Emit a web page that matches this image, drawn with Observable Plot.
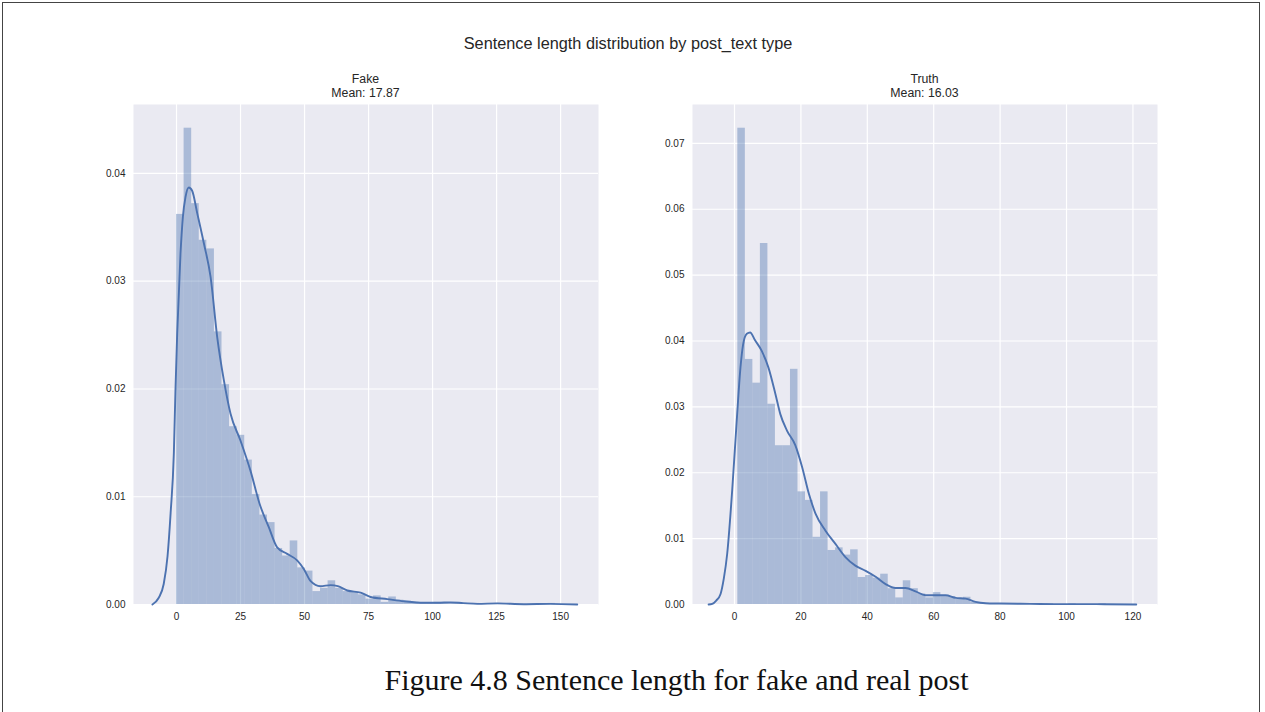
<!DOCTYPE html>
<html>
<head>
<meta charset="utf-8">
<script src="https://cdn.jsdelivr.net/npm/d3@7"></script>
<script src="https://cdn.jsdelivr.net/npm/@observablehq/plot@0.6"></script>
<style>
  html, body { margin: 0; padding: 0; background: #fff; width: 1265px; height: 712px; overflow: hidden; }
  #page { position: relative; width: 1265px; height: 712px; font-family: "Liberation Sans", Arial, sans-serif; color: #262626; }
  .abs { position: absolute; }
  .border { left: 2px; top: 2px; width: 1258px; height: 800px; border: 1.5px solid #444; box-sizing: border-box; }
  .suptitle { left: 0; width: 1256px; top: 33px; text-align: center; font-size: 16.3px; line-height: 20px; }
  .sub { text-align: center; font-size: 12.3px; line-height: 14px; width: 465px; top: 72px; }
  .caption { left: 0; width: 1353px; top: 662px; text-align: center; font-family: "Liberation Serif", "Times New Roman", serif; font-size: 30px; line-height: 36px; color: #111; }
</style>
</head>
<body>
<div id="page">
  <div class="abs border"></div>
  <div class="abs suptitle">Sentence length distribution by post_text type</div>
  <div class="abs sub" id="subL" style="left:133px"></div>
  <div class="abs sub" id="subR" style="left:692px"></div>
  <div class="abs" id="chartL" style="left:83px; top:100px"></div>
  <div class="abs" id="chartR" style="left:642px; top:100px"></div>
  <div class="abs caption">Figure 4.8 Sentence length for fake and real post</div>
</div>
<script>
// ---------- Data ----------
const panelTitles = ["Fake", "Truth"];
const panelMeans = ["17.87", "16.03"];

// Fake: histogram densities, bins start at 0, width 2.96
const fakeBinStart = 0;
const fakeBinWidth = 2.96;
const fakeDensity = [
  0.0362, 0.0442, 0.0372, 0.0338, 0.0330, 0.0253, 0.0204, 0.0165, 0.0157, 0.0134,
  0.0102, 0.0083, 0.0076, 0.0052, 0.0045, 0.0059, 0.0034, 0.0031, 0.0012, 0.0015,
  0.0022, 0.0015, 0.0012, 0.0011, 0.0009, 0.0005, 0.0008, 0.0002, 0.0007, 0.0004,
  0.0003, 0.0002, 0.0001, 0.0001, 0.0002, 0.0001, 0.0001, 0.0001, 0.0000, 0.0001,
  0.0000, 0.0000, 0.0001, 0.0000, 0.0000, 0.0000, 0.0000, 0.0000, 0.0000, 0.0001
];
// Fake: KDE curve
const fakeKdeX = [-9.4, -7, -5, -3.5, -2.3, -1.05, -0.4, 0.26, 1.56, 2.5, 3.5, 4.8, 6.1, 8.1, 10.7, 13.3, 15.9, 18.5, 21.1, 25, 28.9, 32.5, 36, 39.3, 43.2, 47.1, 49.7, 52.3, 56.2, 60.2, 63, 66.7, 71.9, 75.8, 82.3, 88.8, 96.6, 102, 107, 112, 117.5, 125.3, 135.6, 146, 156.5];
const fakeKdeY = [0, 0.0006, 0.0019, 0.0045, 0.0085, 0.014, 0.020, 0.0251, 0.0326, 0.036, 0.0378, 0.0387, 0.0384, 0.0363, 0.0335, 0.0304, 0.0248, 0.0208, 0.0177, 0.0152, 0.0124, 0.0093, 0.0072, 0.0053, 0.0047, 0.0041, 0.0033, 0.0022, 0.0017, 0.0018, 0.0017, 0.0013, 0.0011, 0.0007, 0.0005, 0.0003, 0.00016, 0.00016, 0.0002, 0.00013, 0.00006, 0.0001, 0.00003, 0.00006, 0];

// Truth: histogram densities, bins start at 1, width 2.265
const truthBinStart = 1;
const truthBinWidth = 2.265;
const truthDensity = [
  0.0723, 0.0372, 0.0336, 0.0548, 0.0304, 0.0241, 0.0241, 0.0357, 0.0171, 0.0158,
  0.0102, 0.0171, 0.0082, 0.0086, 0.0075, 0.0083, 0.0041, 0.0044, 0.0040, 0.0046,
  0.0024, 0.0010, 0.0036, 0.0024, 0.0016, 0.0010, 0.0018, 0.0012, 0.0012, 0.0008,
  0.0011, 0.0003, 0.0002, 0.0001, 0.0001, 0.0000, 0.0001, 0.0000, 0.0001, 0.0000,
  0.0000, 0.0001, 0.0000, 0.0000, 0.0001, 0.0000, 0.0000, 0.0000, 0.0001
];
const truthKdeX = [-7.8, -6.7, -5.5, -4.2, -3.2, -2.2, -0.7, 0.8, 1.8, 2.6, 3.7, 4.7, 6.2, 8.2, 10.2, 12.3, 13.8, 15.8, 18.3, 20.4, 22.4, 24.4, 27.4, 30.4, 33.4, 36.4, 39.5, 42.5, 45.5, 48.5, 51.5, 54.5, 57.5, 60.5, 63.6, 66.6, 69.6, 72.6, 75.6, 80, 89, 99, 109, 121];
const truthKdeY = [0, 0.0001, 0.0006, 0.0016, 0.004, 0.0077, 0.0173, 0.0289, 0.036, 0.0395, 0.0411, 0.0413, 0.0401, 0.0385, 0.036, 0.032, 0.0289, 0.0264, 0.0242, 0.0208, 0.0168, 0.0138, 0.0112, 0.0092, 0.0072, 0.0059, 0.0051, 0.0042, 0.0031, 0.0025, 0.0025, 0.002, 0.0014, 0.0014, 0.0014, 0.001, 0.0009, 0.0004, 0.0002, 0.00015, 0.0001, 0.00005, 0.00005, 0];

// Tick values
const fakeXTicks = [0, 25, 50, 75, 100, 125, 150];
const fakeYTicks = [0, 0.01, 0.02, 0.03, 0.04];
const truthXTicks = [0, 20, 40, 60, 80, 100, 120];
const truthYTicks = [0, 0.01, 0.02, 0.03, 0.04, 0.05, 0.06, 0.07];

// ---------- Drawing ----------
const blue = "#4C72B0";
function panel({density, binStart, binWidth, kdeX, kdeY, xTicks, yTicks, xDomain, yDomain}) {
  const bins = density.map((d, i) => ({x1: binStart + i * binWidth, x2: binStart + (i + 1) * binWidth, y: d}));
  const kde = kdeX.map((x, i) => ({x, y: kdeY[i]}));
  return Plot.plot({
    width: 535, height: 530,
    marginLeft: 50, marginRight: 20, marginTop: 4, marginBottom: 26,
    style: {fontFamily: "Liberation Sans, Arial, sans-serif", fontSize: "10px", color: "#262626", background: "transparent", overflow: "visible"},
    x: {domain: xDomain, ticks: xTicks, tickSize: 0, tickPadding: 8, tickFormat: d3.format("d"), label: null},
    y: {domain: yDomain, ticks: yTicks, tickSize: 0, tickPadding: 8, tickFormat: d3.format(".2f"), label: null},
    marks: [
      Plot.frame({fill: "#EAEAF2", stroke: "none"}),
      Plot.ruleX(xTicks, {stroke: "white", strokeWidth: 1.2}),
      Plot.ruleY(yTicks, {stroke: "white", strokeWidth: 1.2}),
      Plot.rectY(bins, {x1: "x1", x2: "x2", y: "y", fill: blue, fillOpacity: 0.4}),
      Plot.line(kde, {x: "x", y: "y", stroke: blue, strokeWidth: 1.9, curve: "monotone-x"})
    ]
  });
}

document.getElementById("chartL").appendChild(panel({
  density: fakeDensity, binStart: fakeBinStart, binWidth: fakeBinWidth,
  kdeX: fakeKdeX, kdeY: fakeKdeY, xTicks: fakeXTicks, yTicks: fakeYTicks,
  xDomain: [-16.8, 164.8], yDomain: [0, 0.0464]
}));
document.getElementById("chartR").appendChild(panel({
  density: truthDensity, binStart: truthBinStart, binWidth: truthBinWidth,
  kdeX: truthKdeX, kdeY: truthKdeY, xTicks: truthXTicks, yTicks: truthYTicks,
  xDomain: [-12.65, 127.4], yDomain: [0, 0.0759]
}));
document.getElementById("subL").innerHTML = panelTitles[0] + "<br>Mean: " + panelMeans[0];
document.getElementById("subR").innerHTML = panelTitles[1] + "<br>Mean: " + panelMeans[1];
</script>
</body>
</html>
